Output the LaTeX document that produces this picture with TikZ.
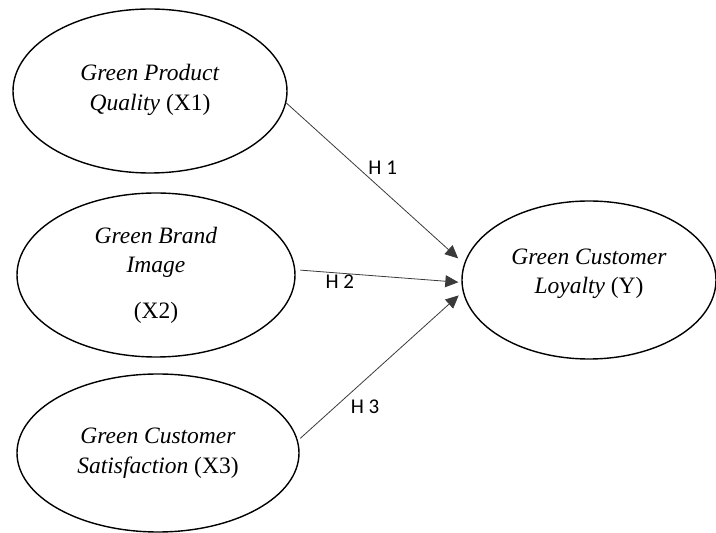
\documentclass[tikz,border=0pt]{standalone}
\usepackage{fontspec}
\setmainfont{Liberation Serif}
\newfontfamily\hypfont{Carlito}
\usetikzlibrary{arrows.meta,shapes.geometric}
\definecolor{PathLine}{HTML}{3A3A3A}

\begin{document}
\begin{tikzpicture}[x=1pt,y=1pt]
    \tikzset{construct/.style={ellipse,draw=black,line width=1.4pt,align=center,inner sep=0pt,
      font=\fontsize{23.5}{29.5}\selectfont},
      hyppath/.style={-{Triangle[length=13pt,width=12pt]},PathLine,line width=0.8pt},
      hyplabel/.style={font=\hypfont\fontsize{21}{23}\selectfont,inner sep=1pt,text=black}}
    \useasboundingbox (0,0) rectangle (716,533);
    \node[construct,minimum width=274,minimum height=164] (x1) at (150,442)
      {\textit{Green Product}\\\textit{Quality} (X1)\\[-22pt]};
    \node[construct,minimum width=278,minimum height=164] (x2) at (156,258)
      {\textit{Green Brand}\\\textit{Image}\\[16pt](X2)};
    \node[construct,minimum width=282,minimum height=158] (x3) at (158,80)
      {\textit{Green Customer}\\\textit{Satisfaction} (X3)};
    \node[construct,minimum width=254,minimum height=158] (y) at (589,253)
      {\textit{Green Customer}\\\textit{Loyalty} (Y)\\[-12pt]};
    \draw[hyppath] (x1.-5) -- ([xshift=-8pt]y.170) node[hyplabel,pos=0.47,anchor=south west] (h1) {H 1};
    \draw[hyppath] ([xshift=5pt]x2.2) -- ([xshift=-3pt]y.181) node[hyplabel,pos=0.15,anchor=north west,inner ysep=3pt] (h2) {H 2};
    \draw[hyppath] ([xshift=3pt]x3.6) -- ([xshift=-5pt]y.187) node[hyplabel,pos=0.31,anchor=north west,inner ysep=5pt] (h3) {H 3};
  \end{tikzpicture}
\end{document}
